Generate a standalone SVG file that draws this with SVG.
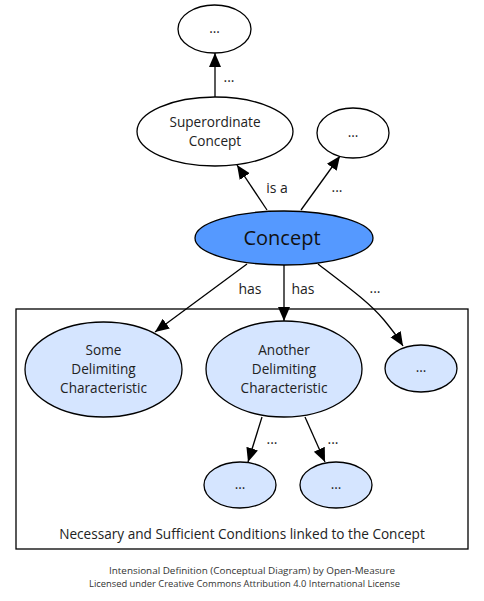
<svg xmlns="http://www.w3.org/2000/svg" width="484" height="601" viewBox="0 0 484 601">
<style>
.n{stroke:#000;stroke-width:1.3}
.w{fill:#fff}
.l{fill:#d5e5ff}
.c{fill:#5599ff}
text{font-family:"Open Sans","Noto Sans",sans-serif;fill:#222;text-anchor:middle}
.t{font-size:13.6px}
.e{font-size:14px}
.f{font-size:9.4px;fill:#333}
.k{stroke:#000;stroke-width:1.3;fill:none;marker-end:url(#a)}
</style>
<defs>
<marker id="a" markerUnits="userSpaceOnUse" markerWidth="16" markerHeight="14" refX="14" refY="6" orient="auto" viewBox="0 0 16 12">
<path d="M0,0 L14,6 L0,12 Z" fill="#000"/>
</marker>
</defs>
<rect id="group" x="16" y="309" width="452" height="240" fill="#fff" stroke="#000" stroke-width="1.3"/>
<text class="t" x="242" y="539">Necessary and Sufficient Conditions linked to the Concept</text>
<g id="connectors">
<line class="k" x1="215" y1="97" x2="215" y2="53"/>
<line class="k" x1="267" y1="210" x2="237" y2="165"/>
<line class="k" x1="301" y1="210" x2="340" y2="156"/>
<line class="k" x1="247" y1="264" x2="155" y2="332"/>
<line class="k" x1="284" y1="265" x2="284" y2="321"/>
<path class="k" d="M318,264 C348,287 370,303 384,320 S398,338 403,346"/>
<line class="k" x1="262" y1="417" x2="248" y2="462"/>
<line class="k" x1="305" y1="417" x2="325" y2="462"/>
<text class="e" x="229" y="82">...</text>
<text class="e" x="277" y="193">is a</text>
<text class="e" x="337" y="192">...</text>
<text class="e" x="250" y="294">has</text>
<text class="e" x="303" y="294">has</text>
<text class="e" x="375" y="293">...</text>
<text class="e" x="272" y="444">...</text>
<text class="e" x="333" y="444">...</text>
</g>
<g id="top"><ellipse class="n w" cx="214.5" cy="29" rx="36.5" ry="24"/><text class="t" x="214.5" y="33">...</text></g>
<g id="superordinate"><ellipse class="n w" cx="215" cy="131.5" rx="78" ry="34.5"/><text class="t" x="215" y="127">Superordinate</text><text class="t" x="215" y="146">Concept</text></g>
<g id="other"><ellipse class="n w" cx="353" cy="133" rx="36" ry="25"/><text class="t" x="353" y="137">...</text></g>
<g id="concept"><ellipse class="n c" cx="284" cy="238" rx="89" ry="27"/><text x="282" y="245" style="font-size:20px;fill:#111">Concept</text></g>
<g id="some"><ellipse class="n l" cx="103.5" cy="369.5" rx="78.5" ry="47.5"/><text class="t" x="103.5" y="355">Some</text><text class="t" x="103.5" y="374">Delimiting</text><text class="t" x="103.5" y="393">Characteristic</text></g>
<g id="another"><ellipse class="n l" cx="284" cy="369" rx="78" ry="48"/><text class="t" x="284" y="355">Another</text><text class="t" x="284" y="374">Delimiting</text><text class="t" x="284" y="393">Characteristic</text></g>
<g id="more"><ellipse class="n l" cx="421" cy="368.5" rx="36" ry="23.5"/><text class="t" x="421" y="372">...</text></g>
<g id="sub1"><ellipse class="n l" cx="240" cy="485" rx="36" ry="23"/><text class="t" x="240" y="489">...</text></g>
<g id="sub2"><ellipse class="n l" cx="336" cy="485" rx="36" ry="23"/><text class="t" x="336" y="489">...</text></g>
<text class="f" x="252" y="574" textLength="286" lengthAdjust="spacingAndGlyphs">Intensional Definition (Conceptual Diagram) by Open-Measure</text>
<text class="f" x="244.5" y="587" textLength="311" lengthAdjust="spacingAndGlyphs">Licensed under Creative Commons Attribution 4.0 International License</text>
</svg>
